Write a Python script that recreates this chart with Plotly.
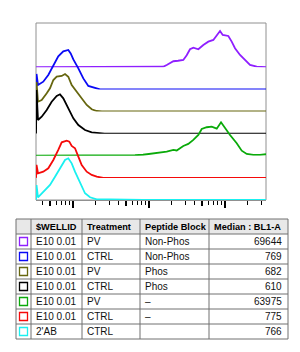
import plotly.graph_objects as go

# ---------------- histogram data (BL1-A intensity, normalized count) ----------------
purple_x = [326, 12000, 15290, 17100, 20890, 24060, 28250, 31310, 34600, 38270, 44550, 51800, 60260, 70150,
            77780, 85960, 93270, 110500, 122400, 135300, 157500, 183300, 213100, 261100, 346000]
purple_y = [0, 0, 0.5, 2.3, 6.0, 6.5, 7.3, 12, 18, 19.6, 18, 22.3, 25.6, 27.3,
            32.3, 36.3, 32.3, 31.3, 25.6, 19, 12.3, 7.3, 2.3, 0.6, 0]

blue_x = [326, 331, 346, 406, 473, 551, 640, 745, 867, 932, 1010, 1175, 1366, 1590, 1947, 2267, 346000]
blue_y = [0, 15.4, 4.4, 7.7, 14.4, 24.4, 33, 38, 39.4, 36, 30, 21, 11, 3.4, 1.1, 0, 0]

olive_x = [326, 331, 346, 387, 451, 498, 551, 610, 710, 785, 867, 961, 1119, 1301, 1514, 1762, 2051, 2400, 346000]
olive_y = [0, 29.5, 9.8, 11.5, 18.2, 23.2, 31.5, 34.8, 35.5, 37.5, 34.8, 26.5, 19.8, 13.2, 6.5, 2.2, 0.5, 0, 0]

black_x = [326, 331, 346, 387, 451, 524, 610, 674, 745, 826, 912, 1010, 1175, 1438, 1762, 2051, 2600, 346000]
black_y = [0, 43.6, 13.6, 16.9, 23.6, 31.9, 37.6, 39.3, 35.3, 28.6, 21.9, 15.3, 8.6, 3.6, 1.3, 0.9, 0, 0]

green_x = [326, 4835, 6540, 8340, 10310, 13960, 17100, 20890, 23140, 28250, 32870, 38270, 44550, 49350,
           57400, 66800, 77780, 88570, 100000, 116300, 142500, 165800, 192900, 235700, 288500, 335700, 346000]
green_y = [0, 0, 0.5, 1, 1.8, 3.1, 4.1, 5.8, 5.3, 9.8, 11.8, 15.8, 20.8, 26.8,
           28.5, 29.1, 27.1, 33.5, 27.5, 20.8, 12.5, 5.1, 1.8, 0.8, 0.8, 1.5, 1.5]

red_x = [326, 331, 346, 406, 473, 551, 640, 710, 826, 894, 961, 1062, 1175, 1301, 1514, 1762, 2051, 2500, 346000]
red_y = [0, 13, 4.6, 6.2, 9.6, 17.9, 27.9, 35.6, 37.2, 36.2, 31.9, 29.6, 21.2, 12.9, 6.2, 2.9, 1.2, 0, 0]

cyan_x = [326, 331, 346, 406, 498, 580, 674, 785, 867, 961, 1062, 1236, 1438, 1674, 2051, 3068, 5000, 8340, 346000]
cyan_y = [0, 15, 2.7, 8.3, 15, 23.3, 31.7, 40, 41.7, 36.7, 28.3, 16.7, 6.7, 2.7, 0.7, 0.5, 0.3, 0, 0]

series_x = [purple_x, blue_x, olive_x, black_x, green_x, red_x, cyan_x]
series_y = [purple_y, blue_y, olive_y, black_y, green_y, red_y, cyan_y]
colors = ["#8F1FFF", "#0A0AF5", "#66660F", "#000000", "#0AAA0A", "#F50A0A", "#1AF0F0"]

# ---------------- table data ----------------
wellid = ["E10 0.01", "E10 0.01", "E10 0.01", "E10 0.01", "E10 0.01", "E10 0.01", "2'AB"]
treatment = ["PV", "CTRL", "PV", "CTRL", "PV", "CTRL", "CTRL"]
peptide = ["Non-Phos", "Non-Phos", "Phos", "Phos", "–", "–", ""]
median = ["69644", "769", "682", "610", "63975", "775", "766"]
headers = ["$WELLID", "Treatment", "Peptide Block", "Median : BL1-A"]

# ticks
major_ticks = [1e3, 1e4, 1e5]
mid_ticks = [500, 5000, 50000]
minor_ticks = [400, 600, 700, 800, 900,
               2000, 3000, 4000, 6000, 7000, 8000, 9000,
               20000, 30000, 40000, 60000, 70000, 80000, 90000,
               200000, 300000]

W, H = 300, 352
x_left, x_right = 36, 266
top_px, bot_px = 23, 200
step = (bot_px - top_px) / 8.0
yr = 2 * step
LINE = "#707070"
FONT = "Liberation Sans"


def px(xp):
    return xp / W


def py(yp):
    return 1 - yp / H


fig = go.Figure()
n = len(series_x)
for i in range(n):
    ax = "" if i == 0 else str(i + 1)
    fig.add_trace(go.Scatter(x=series_x[i], y=series_y[i], mode="lines",
                             line=dict(color=colors[i], width=1.8),
                             xaxis="x", yaxis="y" + ax, showlegend=False, hoverinfo="skip"))
    base = bot_px - (n - 1 - i) * step
    fig.layout["yaxis" + ax] = dict(domain=[py(base), py(base - yr)],
                                    range=[0, yr], visible=False, anchor="x", fixedrange=True)

fig.add_trace(go.Scatter(x=[1000], y=[0], mode="none", xaxis="x2", yaxis="y7",
                         showlegend=False, hoverinfo="skip"))

rng = [2.513, 5.539]
shapes = [dict(type="rect", xref="x domain", yref="paper", x0=0, x1=1,
               y0=py(bot_px), y1=py(top_px), line=dict(color="#909090", width=1), layer="below")]

# ---------------- table drawn with shapes + annotations ----------------
col_edges = [16, 31, 82, 140, 209, 288]
row_h = 15
t_top = 219
n_rows = len(wellid) + 1
t_bot = t_top + n_rows * row_h
shapes.append(dict(type="rect", xref="paper", yref="paper", x0=px(col_edges[0]), x1=px(col_edges[-1]),
                   y0=py(t_top + row_h), y1=py(t_top), fillcolor="#E8E8E8", line=dict(width=0)))
for r in range(n_rows + 1):
    yy = py(t_top + r * row_h)
    shapes.append(dict(type="line", xref="paper", yref="paper", x0=px(col_edges[0]), x1=px(col_edges[-1]),
                       y0=yy, y1=yy, line=dict(color=LINE, width=1)))
for c in col_edges:
    shapes.append(dict(type="line", xref="paper", yref="paper", x0=px(c), x1=px(c),
                       y0=py(t_top), y1=py(t_bot), line=dict(color=LINE, width=1)))

annotations = []
for j, h in enumerate(headers):
    annotations.append(dict(text="<b>%s</b>" % h, xref="paper", yref="paper",
                            x=px(col_edges[j + 1] + 3), y=py(t_top + row_h / 2),
                            xanchor="left", yanchor="middle", showarrow=False,
                            font=dict(family=FONT, size=9.2, color="black")))
for r in range(len(wellid)):
    yc = t_top + (r + 1.5) * row_h
    shapes.append(dict(type="rect", xref="paper", yref="paper", x0=px(19.5), x1=px(27.5),
                       y0=py(yc + 4), y1=py(yc - 4), line=dict(color=colors[r], width=1.3),
                       fillcolor="white"))
    for j, val in enumerate([wellid[r], treatment[r], peptide[r]]):
        annotations.append(dict(text=val, xref="paper", yref="paper",
                                x=px(col_edges[j + 1] + 3), y=py(yc),
                                xanchor="left", yanchor="middle", showarrow=False,
                                font=dict(family=FONT, size=10, color="#111111")))
    annotations.append(dict(text=median[r], xref="paper", yref="paper",
                            x=px(col_edges[-1] - 4), y=py(yc),
                            xanchor="right", yanchor="middle", showarrow=False,
                            font=dict(family=FONT, size=10, color="#111111")))

fig.update_layout(
    width=W, height=H, margin=dict(l=0, r=0, t=0, b=0),
    paper_bgcolor="white", plot_bgcolor="rgba(0,0,0,0)",
    xaxis=dict(type="log", range=rng, domain=[px(x_left), px(x_right)], anchor="y7",
               showline=True, linecolor="#909090", linewidth=1,
               ticks="outside", tickvals=major_ticks, ticklen=7, tickwidth=2, tickcolor="black",
               showticklabels=False, showgrid=False, zeroline=False,
               minor=dict(tickmode="array", tickvals=minor_ticks, ticks="outside",
                          ticklen=4, tickwidth=1, tickcolor="black", showgrid=False)),
    xaxis2=dict(type="log", range=rng, domain=[px(x_left), px(x_right)], anchor="y7", overlaying="x",
                showline=False, ticks="outside", tickvals=mid_ticks, ticklen=5, tickwidth=2,
                tickcolor="black", showticklabels=False, showgrid=False, zeroline=False),
    shapes=shapes,
    annotations=annotations,
)

fig.write_html("out.html")
